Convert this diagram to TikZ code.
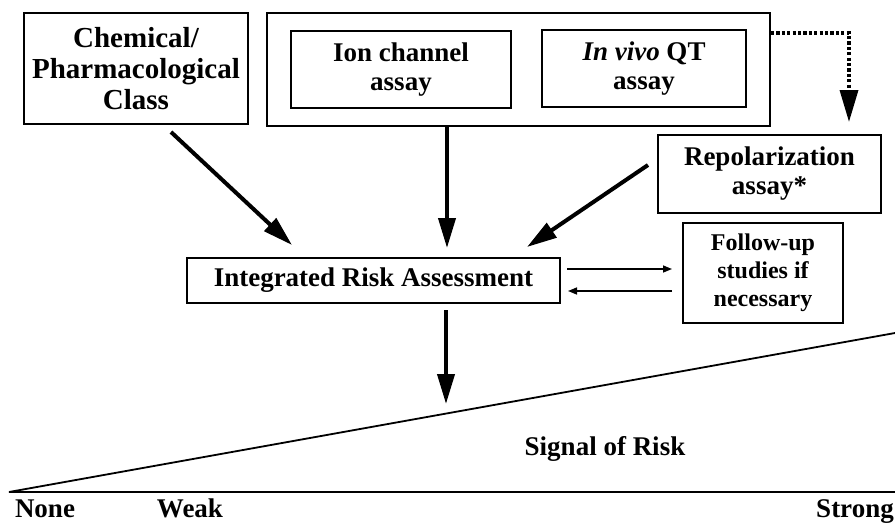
\documentclass[tikz,border=0pt]{standalone}
\usepackage{fontspec}
\setmainfont{Liberation Serif}
\usetikzlibrary{arrows.meta}
\begin{document}
\begin{tikzpicture}[x=1pt,y=-1pt,
  box/.style={draw,line width=2pt,inner sep=0pt,align=center,
    font=\bfseries\fontsize{27}{29}\selectfont},
  bigarrow/.style={line width=4pt,-{Triangle[length=30pt,width=17pt]}},
  thinarrow/.style={line width=1.5pt,-{Triangle[length=9pt,width=7pt]}},
  dotarrow/.style={line width=3.4pt,dash pattern=on 3.2pt off 2.2pt,
    -{Triangle[length=32pt,width=18pt]}},
  axisline/.style={line width=1.8pt},
  scalelabel/.style={font=\bfseries\fontsize{27}{29}\selectfont,inner sep=0pt,anchor=base}]
\useasboundingbox (0,0) rectangle (895,523);

% input boxes
\node[box,minimum width=224pt,minimum height=111pt,
  font=\bfseries\fontsize{29}{31}\selectfont] (chem) at (136,68.5)
  {Chemical/\\Pharmacological\\Class};
\node[draw,line width=2pt,minimum width=503pt,minimum height=113pt] (outer) at (518.5,69.5) {};
\node[box,minimum width=220pt,minimum height=77pt] (ion) at (401,69.5) {Ion channel\\assay};
\node[box,minimum width=204pt,minimum height=77pt] (vivo) at (644,68.5) {\textit{In vivo} QT\\assay};
\node[box,minimum width=223pt,minimum height=78pt] (repol) at (769.5,174) {Repolarization\\assay*};
\node[box,minimum width=160pt,minimum height=100pt,
  font=\bfseries\fontsize{24}{28}\selectfont] (follow) at (763,273)
  {Follow-up\\studies if\\necessary};
\node[box,minimum width=373pt,minimum height=45pt] (integ) at (373.5,280.5)
  {Integrated Risk Assessment};

% arrow end points
\coordinate (chemtail) at (171,132);
\coordinate (chemtip) at (292,245);
\coordinate (midtip) at (447,248);
\coordinate (repoltail) at (648,165);
\coordinate (repoltip) at (527,247);
\coordinate (dotcorner) at (849,33);
\coordinate (downtip) at (446,404);
\coordinate (toright) at (672,269);
\coordinate (toleft) at (568,291);

% arrows into the assessment
\draw[bigarrow] (chemtail) -- (chemtip);
\draw[bigarrow] (outer.south -| midtip) -- (midtip);
\draw[bigarrow] (repoltail) -- (repoltip);
\draw[dotarrow] (outer.east |- dotcorner) -- (dotcorner) -- (849,122);

% exchange with follow-up studies
\draw[thinarrow] (567,269) -- (toright);
\draw[thinarrow] (672,291) -- (toleft);

% result arrow
\draw[bigarrow] (446,310) -- (downtip);

% signal scale
\coordinate (origin) at (9,492);
\coordinate (slopeend) at (895,333);
\coordinate (axisend) at (895,492);
\draw[axisline] (slopeend) -- (origin) -- (axisend);
\node[scalelabel] (signal) at (605,455) {Signal of Risk};
\node[scalelabel] (none) at (45,517) {None};
\node[scalelabel] (weak) at (190,517) {Weak};
\node[scalelabel] (strong) at (855,517) {Strong};
\end{tikzpicture}
\end{document}
